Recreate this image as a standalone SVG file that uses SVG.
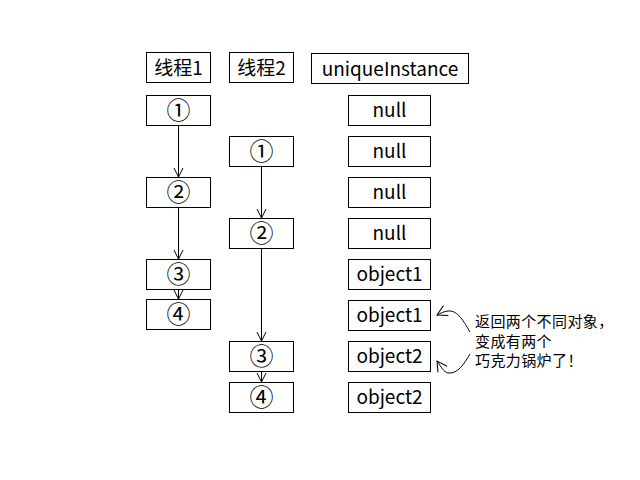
<svg xmlns="http://www.w3.org/2000/svg" width="640" height="480" viewBox="0 0 640 480">
<defs>
<style>
.b{fill:#fff;stroke:#000;stroke-width:1}
.t{font-family:"Noto Sans CJK SC","Noto Sans",sans-serif;font-size:19px;fill:#000;text-anchor:middle}
.n{font-family:"Noto Sans CJK SC","Noto Sans",sans-serif;font-size:24px;fill:#000;text-anchor:middle}
.c{font-family:"Noto Sans CJK SC","Noto Sans",sans-serif;font-size:15px;fill:#000}
.l{fill:none;stroke:#000;stroke-width:1}
</style>
<marker id="v" markerWidth="12" markerHeight="12" refX="10" refY="6" orient="auto" markerUnits="userSpaceOnUse" viewBox="0 0 12 12">
<path d="M1,1.5 L10,6 L1,10.5" fill="none" stroke="#000" stroke-width="1"/>
</marker>
<marker id="h" markerWidth="14" markerHeight="14" refX="12" refY="7" orient="auto" markerUnits="userSpaceOnUse" viewBox="0 0 14 14">
<path d="M2,1.5 L12,7 L2,12.5" fill="none" stroke="#000" stroke-width="1"/>
</marker>
</defs>
<rect width="640" height="480" fill="#fff"/>
<g id="connectors">
<line class="l" x1="178.5" y1="125.5" x2="178.5" y2="177" marker-end="url(#v)"/>
<line class="l" x1="178.5" y1="207.5" x2="178.5" y2="259" marker-end="url(#v)"/>
<line class="l" x1="178.5" y1="289.5" x2="178.5" y2="299" marker-end="url(#v)"/>
<line class="l" x1="261.5" y1="166.5" x2="261.5" y2="218" marker-end="url(#v)"/>
<line class="l" x1="261.5" y1="248.5" x2="261.5" y2="341" marker-end="url(#v)"/>
<line class="l" x1="261.5" y1="371.5" x2="261.5" y2="382" marker-end="url(#v)"/>
<path class="l" d="M470,332 C464,322 458,310 448,311 C444,311.5 441,313 437,315" marker-end="url(#h)"/>
<path class="l" d="M470,354 C464,364 458,374 448,373 C444,372 441,367 437,361" marker-end="url(#h)"/>
</g>
<g id="h1"><rect class="b" x="146.5" y="52.5" width="64" height="30"/><text class="t" x="178.5" y="75">线程1</text></g>
<g id="h2"><rect class="b" x="229.5" y="52.5" width="64" height="30"/><text class="t" x="261.5" y="75">线程2</text></g>
<g id="h3"><rect class="b" x="311.5" y="53.5" width="157" height="30"/><text class="t" x="390" y="76">uniqueInstance</text></g>
<g id="t1s1"><rect class="b" x="146.5" y="95.5" width="64" height="30"/><text class="n" x="178.5" y="119">①</text></g>
<g id="t1s2"><rect class="b" x="146.5" y="177.5" width="64" height="30"/><text class="n" x="178.5" y="201">②</text></g>
<g id="t1s3"><rect class="b" x="146.5" y="259.5" width="64" height="30"/><text class="n" x="178.5" y="283">③</text></g>
<g id="t1s4"><rect class="b" x="146.5" y="299.5" width="64" height="30"/><text class="n" x="178.5" y="323">④</text></g>
<g id="t2s1"><rect class="b" x="229.5" y="136.5" width="64" height="30"/><text class="n" x="261.5" y="160">①</text></g>
<g id="t2s2"><rect class="b" x="229.5" y="218.5" width="64" height="30"/><text class="n" x="261.5" y="242">②</text></g>
<g id="t2s3"><rect class="b" x="229.5" y="341.5" width="64" height="30"/><text class="n" x="261.5" y="365">③</text></g>
<g id="t2s4"><rect class="b" x="229.5" y="382.5" width="64" height="30"/><text class="n" x="261.5" y="406">④</text></g>
<g id="v1"><rect class="b" x="348.5" y="95.5" width="82" height="30"/><text class="t" x="389.5" y="117">null</text></g>
<g id="v2"><rect class="b" x="348.5" y="136.5" width="82" height="30"/><text class="t" x="389.5" y="158">null</text></g>
<g id="v3"><rect class="b" x="348.5" y="177.5" width="82" height="30"/><text class="t" x="389.5" y="199">null</text></g>
<g id="v4"><rect class="b" x="348.5" y="218.5" width="82" height="30"/><text class="t" x="389.5" y="240">null</text></g>
<g id="v5"><rect class="b" x="348.5" y="259.5" width="82" height="30"/><text class="t" x="389.5" y="281">object1</text></g>
<g id="v6"><rect class="b" x="348.5" y="300.5" width="82" height="30"/><text class="t" x="389.5" y="322">object1</text></g>
<g id="v7"><rect class="b" x="348.5" y="341.5" width="82" height="30"/><text class="t" x="389.5" y="363">object2</text></g>
<g id="v8"><rect class="b" x="348.5" y="382.5" width="82" height="30"/><text class="t" x="389.5" y="404">object2</text></g>
<g id="note">
<text class="c" x="475" y="327" letter-spacing="0.4">返回两个不同对象，</text>
<text class="c" x="475" y="346.5" letter-spacing="0.4">变成有两个</text>
<text class="c" x="475" y="366" letter-spacing="0.4">巧克力锅炉了！</text>
</g>
</svg>
